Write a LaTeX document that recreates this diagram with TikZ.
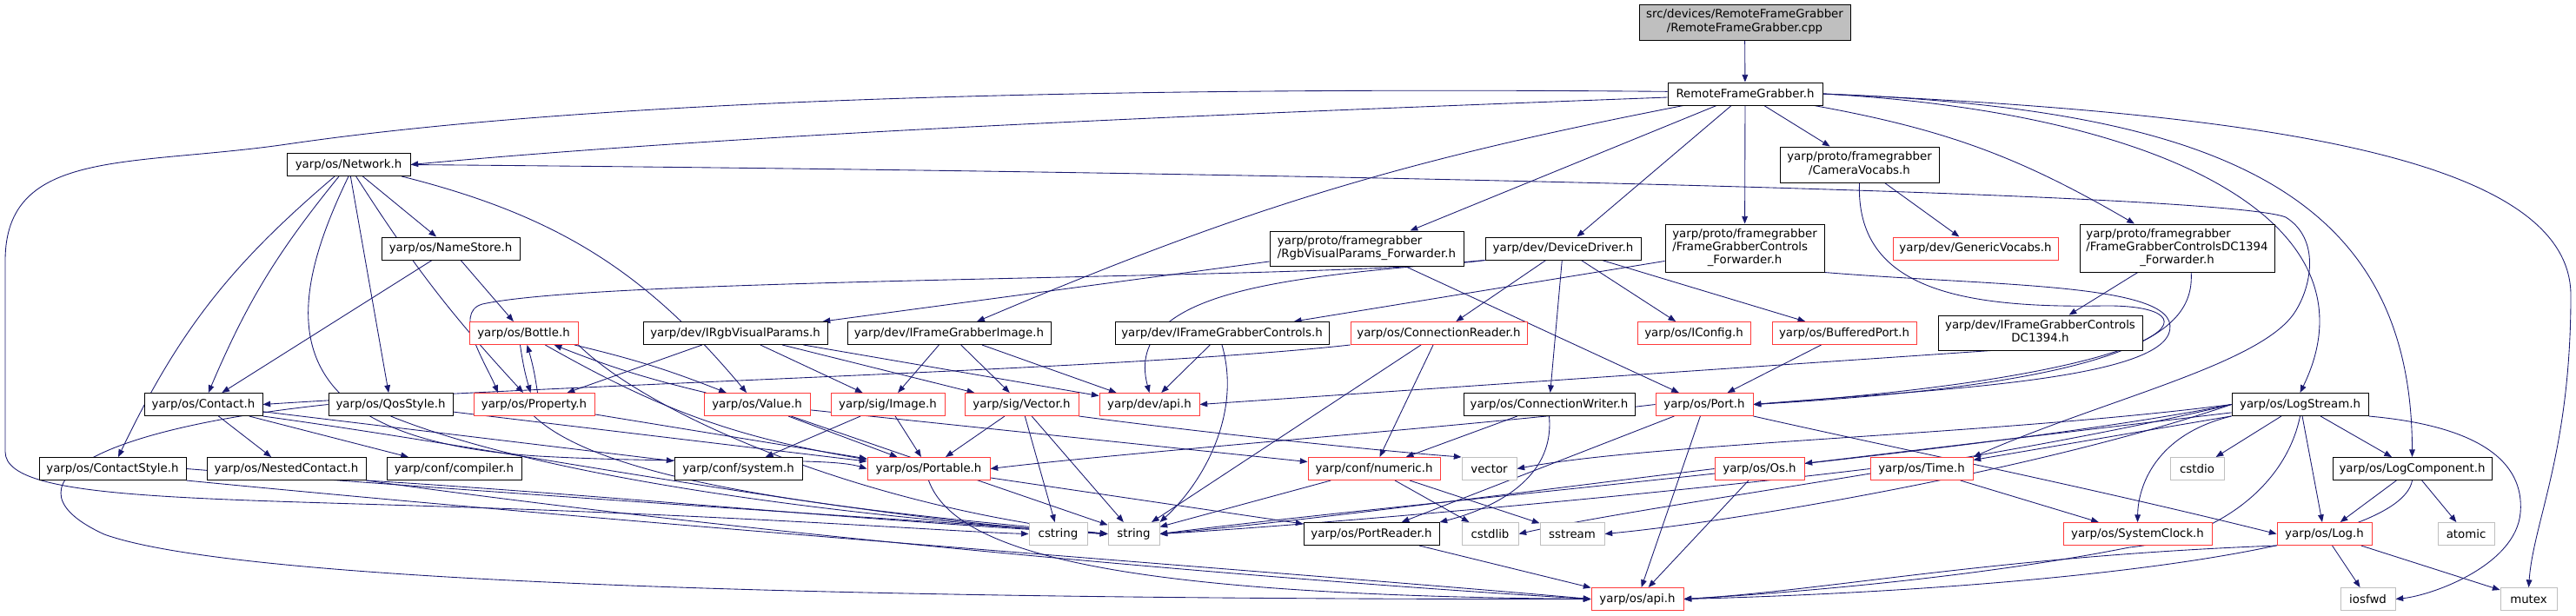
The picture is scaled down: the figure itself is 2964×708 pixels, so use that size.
\documentclass[tikz,border=0pt]{standalone}
\usepackage{fontspec}
\newfontfamily\hdrfont{DejaVu Sans}
\usetikzlibrary{arrows.meta,backgrounds}
\definecolor{edgeblue}{HTML}{191970}
\definecolor{truncred}{HTML}{FF3B3B}
\definecolor{sysgray}{HTML}{BFBFBF}
\tikzset{%
  hdr/.style={draw=black, line width=0.75pt, inner sep=0pt, minimum height=19.5pt,
    font=\hdrfont\fontsize{10}{12}\selectfont, fill=white},
  trunc/.style={hdr, draw=truncred},
  sys/.style={hdr, draw=sysgray},
  wd/.style={minimum width=#1*0.75pt},
  ht/.style={minimum height=#1*0.75pt},
  inc/.style={draw=edgeblue, line width=0.65pt, -{Triangle[length=6.5pt,width=5pt]}}
}
\newcommand{\hdrlines}[2]{\renewcommand{\arraystretch}{0.94}%
  \begin{tabular}{@{}l@{}}#1\\\multicolumn{1}{@{}c@{}}{#2}\end{tabular}}

\begin{document}
\begin{tikzpicture}[x=0.75pt, y=-0.75pt]
    \useasboundingbox (0,0) rectangle (2964,708);

    % rows of headers, top to bottom
    \node [hdr, fill=sysgray, wd=243, ht=41] (cpp) at (2007.5,25.5)
      {\hdrlines{src/devices/RemoteFrameGrabber}{/RemoteFrameGrabber.cpp}};
    \node [hdr, wd=178] (rfgh) at (2008,108) {RemoteFrameGrabber.h};

    \node [hdr, wd=142] (network) at (401,189.5) {yarp/os/Network.h};
    \node [hdr, wd=183, ht=41] (cameravocabs) at (2139.5,189.5)
      {\hdrlines{yarp/proto/framegrabber}{/CameraVocabs.h}};

    \node [hdr, wd=159] (namestore) at (518.5,286) {yarp/os/NameStore.h};
    \node [hdr, wd=223, ht=40] (rgbfwd) at (1572.5,286)
      {\hdrlines{yarp/proto/framegrabber}{/RgbVisualParams\_Forwarder.h}};
    \node [hdr, wd=179] (devicedriver) at (1798.5,286) {yarp/dev/DeviceDriver.h};
    \node [hdr, wd=183, ht=55] (fgcfwd) at (2007.5,285.5)
      {\hdrlines{yarp/proto/framegrabber\\/FrameGrabberControls}{\_Forwarder.h}};
    \node [trunc, wd=190] (genericvocabs) at (2273,286) {yarp/dev/GenericVocabs.h};
    \node [hdr, wd=224, ht=55] (dc1394fwd) at (2505,285.5)
      {\hdrlines{yarp/proto/framegrabber\\/FrameGrabberControlsDC1394}{\_Forwarder.h}};

    \node [trunc, wd=125] (bottle) at (602.5,383.5) {yarp/os/Bottle.h};
    \node [hdr, wd=212] (irgbvisual) at (846,383.5) {yarp/dev/IRgbVisualParams.h};
    \node [hdr, wd=234] (iframeimage) at (1092,383.5) {yarp/dev/IFrameGrabberImage.h};
    \node [hdr, wd=246] (iframecontrols) at (1406,383.5) {yarp/dev/IFrameGrabberControls.h};
    \node [trunc, wd=203] (connreader) at (1655.5,383.5) {yarp/os/ConnectionReader.h};
    \node [trunc, wd=130] (iconfig) at (1949,383.5) {yarp/os/IConfig.h};
    \node [trunc, wd=166] (bufferedport) at (2122,383.5) {yarp/os/BufferedPort.h};
    \node [hdr, wd=235, ht=40] (dc1394) at (2347.5,383)
      {\hdrlines{yarp/dev/IFrameGrabberControls}{DC1394.h}};

    \node [hdr, wd=136] (contact) at (234,465.5) {yarp/os/Contact.h};
    \node [hdr, wd=143] (qosstyle) at (449.5,465.5) {yarp/os/QosStyle.h};
    \node [trunc, wd=139] (property) at (614.5,465.5) {yarp/os/Property.h};
    \node [trunc, wd=122] (value) at (871,465.5) {yarp/os/Value.h};
    \node [trunc, wd=131] (sigimage) at (1021.5,465.5) {yarp/sig/Image.h};
    \node [trunc, wd=131] (sigvector) at (1175.5,465.5) {yarp/sig/Vector.h};
    \node [trunc, wd=115] (devapi) at (1322.5,465.5) {yarp/dev/api.h};
    \node [hdr, wd=197] (connwriter) at (1782.5,465.5) {yarp/os/ConnectionWriter.h};
    \node [trunc, wd=112] (port) at (1961,465.5) {yarp/os/Port.h};
    \node [hdr, wd=157] (logstream) at (2646.5,465.5) {yarp/os/LogStream.h};

    \node [hdr, wd=169] (contactstyle) at (129.5,539.5) {yarp/os/ContactStyle.h};
    \node [hdr, wd=183] (nestedcontact) at (329.5,539.5) {yarp/os/NestedContact.h};
    \node [hdr, wd=155] (compiler) at (522.5,539.5) {yarp/conf/compiler.h};
    \node [hdr, wd=147] (system) at (849.5,539.5) {yarp/conf/system.h};
    \node [trunc, wd=141] (portable) at (1068.5,539.5) {yarp/os/Portable.h};
    \node [trunc, wd=152] (numeric) at (1581,539.5) {yarp/conf/numeric.h};
    \node [sys, wd=63] (vectorstd) at (1713.5,539.5) {vector};
    \node [trunc, wd=103] (os) at (2024.5,539.5) {yarp/os/Os.h};
    \node [trunc, wd=118] (time) at (2211,539.5) {yarp/os/Time.h};
    \node [sys, wd=62] (cstdio) at (2528,539.5) {cstdio};
    \node [hdr, wd=183] (logcomponent) at (2775.5,539.5) {yarp/os/LogComponent.h};

    \node [sys, wd=67] (cstring) at (1217.5,614.5) {cstring};
    \node [sys, wd=59] (string) at (1304.5,614.5) {string};
    \node [hdr, wd=156] (portreader) at (1578,614.5) {yarp/os/PortReader.h};
    \node [sys, wd=65] (cstdlib) at (1714.5,614.5) {cstdlib};
    \node [sys, wd=74] (sstream) at (1809,614.5) {sstream};
    \node [trunc, wd=171] (systemclock) at (2459.5,614.5) {yarp/os/SystemClock.h};
    \node [trunc, wd=109] (log) at (2674.5,614.5) {yarp/os/Log.h};
    \node [sys, wd=65] (atomic) at (2837.5,614.5) {atomic};

    \node [trunc, wd=106] (osapi) at (1884,689.5) {yarp/os/api.h};
    \node [sys, wd=63] (iosfwd) at (2724.5,689.5) {iosfwd};
    \node [sys, wd=65] (mutex) at (2909.5,689.5) {mutex};

    \begin{scope}[on background layer]
    \draw [inc] (cpp) -- (rfgh);
    % RemoteFrameGrabber.h
    \draw [inc] ([yshift=-3pt]rfgh.west) .. controls (1500,128) and (900,150) .. (network.east);
    \draw [inc] ([yshift=2pt]rfgh.west) .. controls (1300,100) and (700,112) .. (330,166)
      .. controls (150,192) and (6,170) .. (6,300) -- (6,520)
      .. controls (6,580) and (250,572) .. (650,588) .. controls (950,600) and (1100,612) .. (cstring.west);
    \draw [inc] (rfgh) -- (rgbfwd);
    \draw [inc] (rfgh) -- (devicedriver);
    \draw [inc] (rfgh) to[bend right=6] (iframeimage);
    \draw [inc] (rfgh) -- (fgcfwd);
    \draw [inc] (rfgh) -- (cameravocabs);
    \draw [inc] (rfgh) to[bend left=10] (dc1394fwd);
    \draw [inc] (rfgh.east) .. controls (2500,130) and (2740,260) .. (logstream.north);
    \draw [inc] (rfgh.east) .. controls (2550,125) and (2775,220) .. (logcomponent.north);
    \draw [inc] (rfgh.east) .. controls (2600,130) and (2958,180) .. (2958,340)
      .. controls (2958,520) and (2915,600) .. (mutex.north);
    % Network.h
    \draw [inc] (network) -- (namestore);
    \draw [inc] (network) to[bend right=8] (contact);
    \draw [inc] (network) to[bend right=12] (contactstyle);
    \draw [inc] (network) -- (qosstyle);
    \draw [inc] (network) to[bend right=5] (property);
    \draw [inc] (network) to[bend left=18] (value);
    \draw [inc] (network.south) .. controls (330,350) and (300,505) .. (620,525)
      .. controls (800,535) and (950,525) .. (portable.west);
    \draw [inc] (network.east) .. controls (1500,198) and (2560,222) .. (2630,250)
      .. controls (2670,275) and (2660,330) .. (2640,360)
      .. controls (2600,420) and (2420,460) .. (time.north east);
    \draw [inc] (namestore) -- (contact);
    \draw [inc] (namestore) -- (bottle);
    % forwarders and vocabs
    \draw [inc] (rgbfwd) -- (irgbvisual);
    \draw [inc] (rgbfwd) -- (port);
    \draw [inc] (fgcfwd) -- (iframecontrols);
    \draw [inc] (fgcfwd.south east) .. controls (2300,330) and (2520,325) .. (2495,385)
      .. controls (2470,440) and (2200,450) .. (port.east);
    \draw [inc] (cameravocabs) -- (genericvocabs);
    \draw [inc] (cameravocabs.south) .. controls (2135,330) and (2250,355) .. (2420,352)
      .. controls (2560,350) and (2520,430) .. (port.east);
    \draw [inc] (dc1394fwd) -- (dc1394);
    \draw [inc] (dc1394fwd.300) .. controls (2525,380) and (2460,440) .. (port.east);
    % DeviceDriver.h
    \draw [inc] (devicedriver.south west) .. controls (1550,322) and (700,318) .. (555,350)
      .. controls (520,360) and (560,420) .. (property.162);
    \draw [inc] (devicedriver.south west) .. controls (1500,318) and (1290,330) .. (devapi.north);
    \draw [inc] (devicedriver) -- (connreader);
    \draw [inc] (devicedriver) -- (connwriter);
    \draw [inc] (devicedriver) -- (iconfig);
    \draw [inc] (devicedriver) -- (bufferedport);
    % interfaces
    \draw [inc] (irgbvisual) -- (property);
    \draw [inc] (irgbvisual) -- (sigimage);
    \draw [inc] (irgbvisual) -- (sigvector);
    \draw [inc] (irgbvisual) -- (devapi);
    \draw [inc] (iframeimage) -- (sigimage);
    \draw [inc] (iframeimage) -- (sigvector);
    \draw [inc] (iframeimage) -- (devapi);
    \draw [inc] (iframecontrols) -- (devapi);
    \draw [inc] (iframecontrols.south) .. controls (1430,480) and (1380,560) .. (string.north east);
    \draw [inc] (dc1394.200) -- (devapi.east);
    \draw [inc] (connreader.south west) .. controls (1300,425) and (700,440) .. (contact.east);
    \draw [inc] (connreader) -- (numeric);
    \draw [inc] (connreader) -- (string);
    \draw [inc] (bufferedport) -- (port);
    % Bottle, Property, Value
    \draw [inc] ([xshift=-3pt]bottle.south) to[bend right=4] ([xshift=-3pt]property.north);
    \draw [inc] ([xshift=3pt]property.north) to[bend right=4] ([xshift=3pt]bottle.south);
    \draw [inc] (bottle) to[bend left=4] (value);
    \draw [inc] (value) to[bend left=4] (bottle);
    \draw [inc] (bottle) to[bend right=10] (portable);
    \draw [inc] (bottle.south east) .. controls (750,480) and (1000,585) .. (string.west);
    \draw [inc] (property) -- (portable);
    \draw [inc] (property.south) .. controls (700,560) and (1000,590) .. (string.west);
    \draw [inc] (value) -- (portable);
    \draw [inc] (value) -- (numeric);
    \draw [inc] (value) -- (string);
    % QosStyle, Contact, ContactStyle, NestedContact
    \draw [inc] (qosstyle.west) .. controls (100,495) and (0,560) .. (120,615)
      .. controls (300,680) and (1200,690) .. (osapi.west);
    \draw [inc] (qosstyle) -- (portable);
    \draw [inc] (qosstyle.south) .. controls (600,540) and (900,590) .. (string.west);
    \draw [inc] (contact) -- (nestedcontact);
    \draw [inc] (contact) -- (compiler);
    \draw [inc] (contact) -- (system);
    \draw [inc] (contact.south east) .. controls (600,520) and (1000,600) .. (string.west);
    \draw [inc] (contactstyle.east) .. controls (600,570) and (1000,595) .. (string.west);
    \draw [inc] (contactstyle.south east) .. controls (800,610) and (1500,660) .. (osapi.west);
    \draw [inc] (nestedcontact.south east) .. controls (700,570) and (1000,600) .. (string.west);
    \draw [inc] (nestedcontact.south east) .. controls (900,620) and (1500,670) .. (osapi.west);
    % sig
    \draw [inc] (sigimage) -- (system);
    \draw [inc] (sigimage) -- (portable);
    \draw [inc] (sigvector) -- (portable);
    \draw [inc] (sigvector) -- (cstring);
    \draw [inc] (sigvector) -- (string);
    \draw [inc] (sigvector.south east) .. controls (1400,500) and (1600,520) .. (vectorstd.north west);
    % connections and ports
    \draw [inc] (connwriter) -- (numeric);
    \draw [inc] (connwriter.south) .. controls (1790,560) and (1700,590) .. (portreader.north east);
    \draw [inc] (port.west) .. controls (1700,490) and (1300,520) .. (portable.east);
    \draw [inc] (port) -- (osapi);
    \draw [inc] (port) -- (portreader);
    \draw [inc] (port.south east) .. controls (2200,520) and (2400,560) .. (log.west);
    \draw [inc] (portable) -- (portreader);
    \draw [inc] (portable.south) .. controls (1100,640) and (1300,685) .. (osapi.west);
    \draw [inc] (portreader) -- (osapi);
    \draw [inc] (numeric) -- (string);
    \draw [inc] (numeric) -- (cstdlib);
    \draw [inc] (numeric) -- (sstream);
    % LogStream.h
    \draw [inc] (logstream) -- (os);
    \draw [inc] (logstream) -- (time);
    \draw [inc] (logstream) -- (cstdio);
    \draw [inc] (logstream) -- (logcomponent);
    \draw [inc] (logstream) -- (log);
    \draw [inc] (logstream.south west) .. controls (2480,500) and (2460,560) .. (systemclock.north);
    \draw [inc] (logstream.south) .. controls (2630,560) and (2550,620) .. (2450,630)
      .. controls (2300,660) and (2100,680) .. (osapi.east);
    \draw [inc] (logstream.south east) .. controls (2850,490) and (2905,530) .. (2900,590)
      .. controls (2895,650) and (2800,685) .. (iosfwd.east);
    \draw [inc] (logstream.west) .. controls (2300,500) and (1900,510) .. (vectorstd.east);
    \draw [inc] (logstream.west) .. controls (2300,520) and (1600,580) .. (string.east);
    \draw [inc] (logstream.west) .. controls (2300,530) and (1900,580) .. (cstdlib.east);
    \draw [inc] (logstream.west) .. controls (2350,540) and (2000,600) .. (sstream.east);
    % Os, Time, Log
    \draw [inc] (os) -- (osapi);
    \draw [inc] (os.west) .. controls (1800,560) and (1500,600) .. (string.east);
    \draw [inc] (time) -- (systemclock);
    \draw [inc] (time.west) .. controls (1900,570) and (1500,605) .. (string.east);
    \draw [inc] (log) -- (iosfwd);
    \draw [inc] (log) -- (mutex);
    \draw [inc] (log.south west) .. controls (2300,640) and (2100,680) .. (osapi.east);
    \draw [inc] (logcomponent) -- (log);
    \draw [inc] (logcomponent) -- (atomic);
    \draw [inc] (logcomponent.south) .. controls (2760,640) and (2300,680) .. (osapi.east);
    \end{scope}
\end{tikzpicture}
\end{document}
